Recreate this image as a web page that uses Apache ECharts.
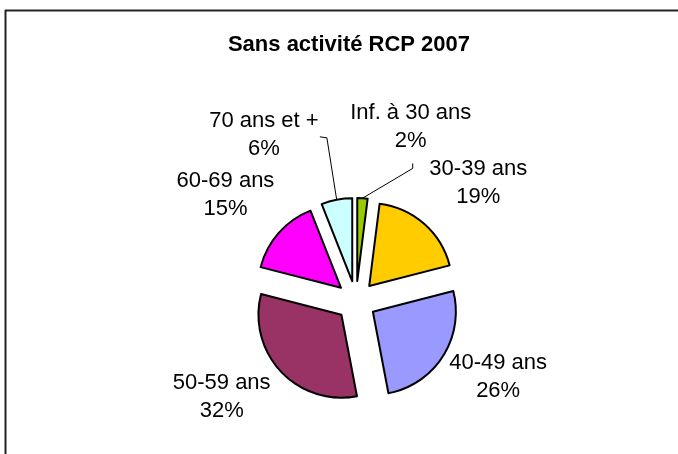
<!DOCTYPE html>
<html>
<head>
<meta charset="utf-8">
<script src="https://cdn.jsdelivr.net/npm/echarts@6/dist/echarts.min.js"></script>
<style>
  html, body { margin: 0; padding: 0; background: #fff; }
  #chart { width: 678px; height: 454px; }
</style>
</head>
<body>
<div id="chart"></div>
<script>
// Sans activité RCP 2007 — camembert éclaté
const categories = ['Inf. à 30 ans', '30-39 ans', '40-49 ans', '50-59 ans', '60-69 ans', '70 ans et +'];
const shares = [2, 19, 26, 32, 15, 6];
const colors = ['#99CC00', '#FFCC00', '#9999FF', '#993366', '#FF00FF', '#CCFFFF'];

// label placement around the pie (angle clockwise from 12h, distance from centre)
const labelAngle = [17.5, 46, 118, 234.5, 309, 331];
const labelDist = [182, 170, 161, 165, 168, 190];
// leader-line elbow relative to the label centre (null = no leader)
const leaderElbow = [[[2, 36], [2, 41]], null, null, null, null, [[56, 2], [63, 3]]];

const CX = 356, CY = 301, R = 83, OFFSET = 20;
const FONT = 'Liberation Sans, Arial, sans-serif';

const total = shares.reduce((a, b) => a + b, 0);
const polar = (deg, d) => [CX + d * Math.sin(deg * Math.PI / 180), CY - d * Math.cos(deg * Math.PI / 180)];

const graphics = [
  { type: 'line', shape: { x1: 5, y1: 10.5, x2: 678, y2: 10.5 }, style: { stroke: '#222', lineWidth: 2 } },
  { type: 'line', shape: { x1: 5.5, y1: 10, x2: 5.5, y2: 454 }, style: { stroke: '#222', lineWidth: 2 } }
];

let acc = 0;
categories.forEach((name, i) => {
  const mid = (acc + shares[i] / 2) / total * 360;
  acc += shares[i];
  const [lx, ly] = polar(labelAngle[i], labelDist[i]);
  graphics.push({
    type: 'text', x: lx, y: ly, z: 10,
    style: {
      text: name + '\n' + shares[i] + '%',
      font: '22px ' + FONT, lineHeight: 28,
      fill: '#000', align: 'center', verticalAlign: 'middle'
    }
  });
  if (leaderElbow[i]) {
    const tip = polar(mid, R + OFFSET);
    const pts = leaderElbow[i].map(([dx, dy]) => [lx + dx, ly + dy]).concat([tip]);
    graphics.push({
      type: 'polyline', z: 10,
      shape: { points: pts },
      style: { stroke: '#000', lineWidth: 1, fill: null }
    });
  }
});

const chart = echarts.init(document.getElementById('chart'), null, { renderer: 'canvas' });

chart.setOption({
  animation: false,
  backgroundColor: '#fff',
  title: {
    text: 'Sans activité RCP 2007',
    left: 344, top: 29, textAlign: 'center',
    textStyle: { fontFamily: FONT, fontSize: 22, fontWeight: 'bold', color: '#000' }
  },
  graphic: graphics,
  series: [{
    type: 'pie',
    center: [CX, CY],
    radius: R,
    startAngle: 90,
    clockwise: true,
    selectedMode: 'multiple',
    selectedOffset: OFFSET,
    emphasis: { disabled: true },
    itemStyle: { borderColor: '#000', borderWidth: 2 },
    label: { show: false },
    labelLine: { show: false },
    data: categories.map((c, i) => ({
      name: c,
      value: shares[i],
      selected: true,
      itemStyle: { color: colors[i] }
    }))
  }]
});
</script>
</body>
</html>
